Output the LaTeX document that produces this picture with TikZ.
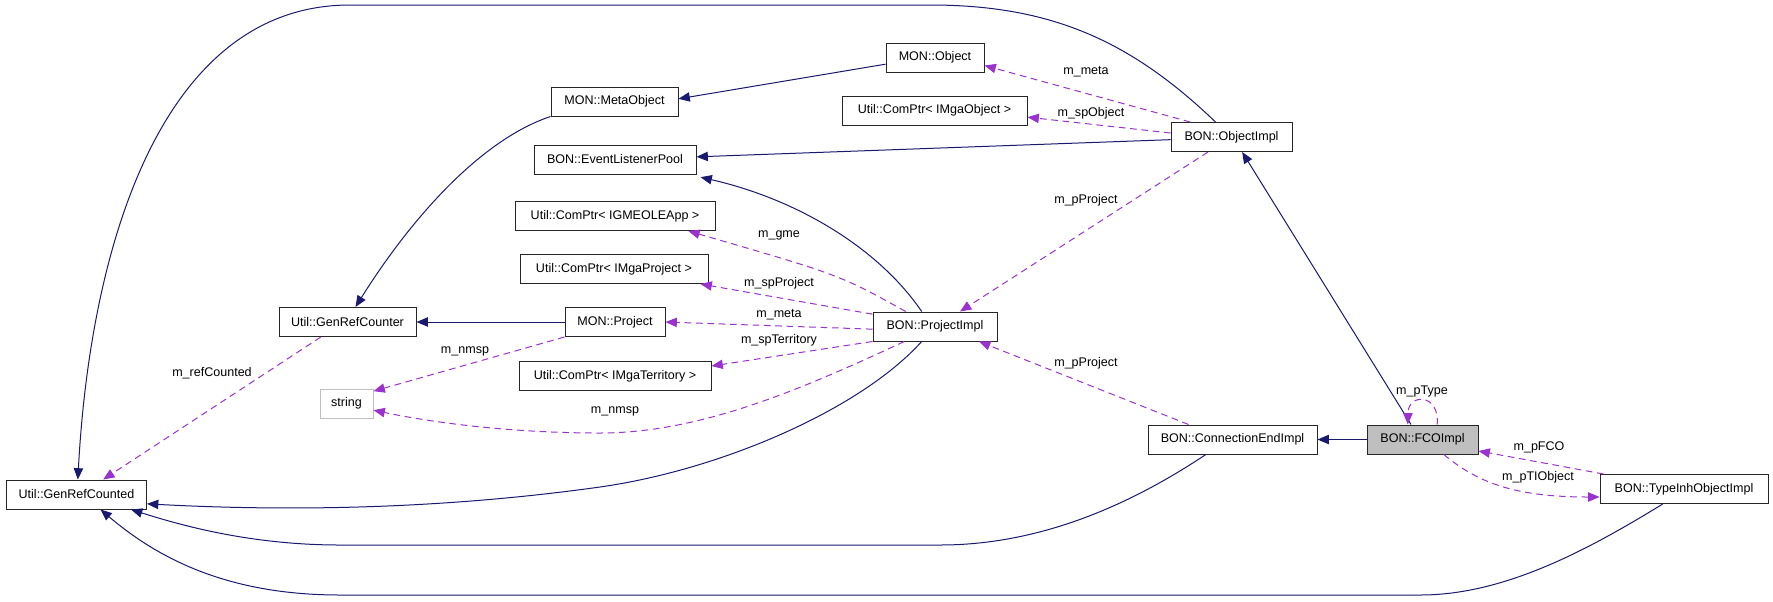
\documentclass[tikz,border=0pt]{standalone}
\usepackage{fontspec}
\setmainfont{Liberation Sans}
\usepackage{tikz}
\usetikzlibrary{arrows.meta}

\definecolor{basecol}{HTML}{191970}
\definecolor{usecol}{HTML}{9A32CD}
\tikzset{
    cls/.style    = {draw=black!85, line width=0.75pt, minimum height=21.75pt, inner sep=0pt,
                     font=\fontsize{9.4}{11}\selectfont},
    base/.style   = {draw=basecol, line width=0.75pt, -{Triangle[length=8.5pt, width=7pt]}},
    member/.style = {draw=usecol, line width=0.75pt, dash pattern=on 5pt off 3.5pt,
                     -{Triangle[length=8.5pt, width=7pt]}},
    lbl/.style    = {inner sep=0pt, font=\fontsize{9.4}{11}\selectfont},
}

\begin{document}
\begin{tikzpicture}[x=0.75pt, y=-0.75pt]
    \useasboundingbox (0,0) rectangle (1773,601);

    \node[cls, minimum width=95.25pt]  (metaobj)   at (614.5,101.5) {MON::MetaObject};
    \node[cls, minimum width=73.5pt]   (monobj)    at (935,57.5)    {MON::Object};
    \node[cls, minimum width=138.75pt] (ptrobj)    at (934.5,110.5) {Util::ComPtr< IMgaObject >};
    \node[cls, minimum width=121.5pt]  (elp)       at (615,159.5)   {BON::EventListenerPool};
    \node[cls, minimum width=150pt]    (ptrgme)    at (615,216)     {Util::ComPtr< IGMEOLEApp >};
    \node[cls, minimum width=141pt]    (ptrproj)   at (614,269)     {Util::ComPtr< IMgaProject >};
    \node[cls, minimum width=102.75pt] (grcounter) at (347.5,322)   {Util::GenRefCounter};
    \node[cls, minimum width=75pt]     (monproj)   at (615,322)     {MON::Project};
    \node[cls, minimum width=144pt]    (ptrterr)   at (615,376)     {Util::ComPtr< IMgaTerritory >};
    \node[cls, minimum width=39.75pt, draw=black!25] (str) at (346.5,403.5) {string};
    \node[cls, minimum width=105pt]    (grcd)      at (76.5,494.5)  {Util::GenRefCounted};
    \node[cls, minimum width=90.75pt]  (objimpl)   at (1231.5,137)  {BON::ObjectImpl};
    \node[cls, minimum width=93pt]     (projimpl)  at (935,326.5)   {BON::ProjectImpl};
    \node[cls, minimum width=126.75pt] (connend)   at (1232.5,439.5) {BON::ConnectionEndImpl};
    \node[cls, minimum width=83.25pt, fill=black!25] (fco) at (1422.5,439.5) {BON::FCOImpl};
    \node[cls, minimum width=126pt]    (typeinh)   at (1684,489)    {BON::TypeInhObjectImpl};

    % base classes
    \draw[base] ([xshift=-12pt]objimpl.north) .. controls (1130,40) and (1050,5) .. (930,5)
        -- (350,5) .. controls (160,5) and (90,250) .. ([xshift=1pt]grcd.north);
    \draw[base] ([yshift=-5pt]monobj.west) -- ([yshift=2pt]metaobj.east);
    \draw[base] ([yshift=-2pt]objimpl.west) -- ([yshift=2pt]elp.east);
    \draw[base] (metaobj.south west) .. controls (480,140) and (410,220) .. ([xshift=6pt]grcounter.north);
    \draw[base] (monproj) -- (grcounter);
    \draw[base] ([xshift=-10pt]projimpl.north) .. controls (880,250) and (800,200) .. ([xshift=3pt,yshift=-2pt]elp.south east);
    \draw[base] ([xshift=-10pt]projimpl.south) .. controls (860,410) and (720,470) .. (600,487)
        .. controls (450,508) and (300,512) .. ([yshift=-7pt]grcd.east);
    \draw[base] (fco) -- (connend);
    \draw[base] ([xshift=-20pt]connend.south) .. controls (1130,505) and (1040,545) .. (940,545)
        -- (340,545) .. controls (250,545) and (180,525) .. ([xshift=-12pt]grcd.south east);
    \draw[base] ([xshift=-16pt]typeinh.south) .. controls (1580,555) and (1500,595) .. (1420,595)
        -- (340,595) .. controls (230,595) and (160,560) .. ([xshift=18pt]grcd.south);
    \draw[base] ([xshift=-8.6pt]fco.north) -- ([xshift=8pt]objimpl.south);

    % members
    \draw[member] ([xshift=-31pt]objimpl.north) -- ([yshift=-6pt]monobj.east);
    \draw[member] ([yshift=3pt]objimpl.west) -- ([yshift=-5pt]ptrobj.east);
    \draw[member] ([xshift=-17.6pt]objimpl.south) -- ([xshift=18.75pt]projimpl.north);
    \draw[member] ([xshift=-22pt]projimpl.north) .. controls (840,275) .. ([xshift=55pt]ptrgme.south);
    \draw[member] ([yshift=-2pt]projimpl.north west) -- ([xshift=-6pt]ptrproj.south east);
    \draw[member] ([yshift=-2pt]projimpl.west) -- (monproj.east);
    \draw[member] (projimpl.south west) -- ([yshift=7.5pt]ptrterr.east);
    \draw[member] ([xshift=-23pt]projimpl.south) .. controls (800,390) and (700,433) .. (600,433)
        .. controls (500,433) and (420,420) .. ([yshift=-5pt]str.east);
    \draw[member] (monproj.south west) -- ([yshift=-2pt]str.north east);
    \draw[member] ([xshift=-20pt]grcounter.south) -- ([xshift=20pt]grcd.north);
    \draw[member] ([xshift=-33pt]connend.north) -- ([xshift=33pt]projimpl.south);
    \draw[member] ([xshift=11pt]fco.north) .. controls (1440,393) and (1408,393) .. ([xshift=-11pt]fco.north);
    \draw[member] ([xshift=3pt]typeinh.north west) -- ([yshift=-8.6pt]fco.east);
    \draw[member] ([xshift=16pt]fco.south) .. controls (1480,485) and (1520,497) .. ([yshift=-6pt]typeinh.west);

    % member names
    \node[lbl] (lmeta1)   at (1086,72)  {m\_meta};
    \node[lbl] (lspobj)   at (1091,113) {m\_spObject};
    \node[lbl] (lpproj1)  at (1086,200) {m\_pProject};
    \node[lbl] (lgme)     at (779,235)  {m\_gme};
    \node[lbl] (lspproj)  at (779,283)  {m\_spProject};
    \node[lbl] (lmeta2)   at (779,315)  {m\_meta};
    \node[lbl] (lspterr)  at (779,340)  {m\_spTerritory};
    \node[lbl] (lnmsp1)   at (615,411)  {m\_nmsp};
    \node[lbl] (lnmsp2)   at (465,351)  {m\_nmsp};
    \node[lbl] (lref)     at (212,373)  {m\_refCounted};
    \node[lbl] (lpproj2)  at (1086,363) {m\_pProject};
    \node[lbl] (lptype)   at (1422,391) {m\_pType};
    \node[lbl] (lpfco)    at (1539,447) {m\_pFCO};
    \node[lbl] (lptio)    at (1538,477) {m\_pTIObject};
\end{tikzpicture}
\end{document}
